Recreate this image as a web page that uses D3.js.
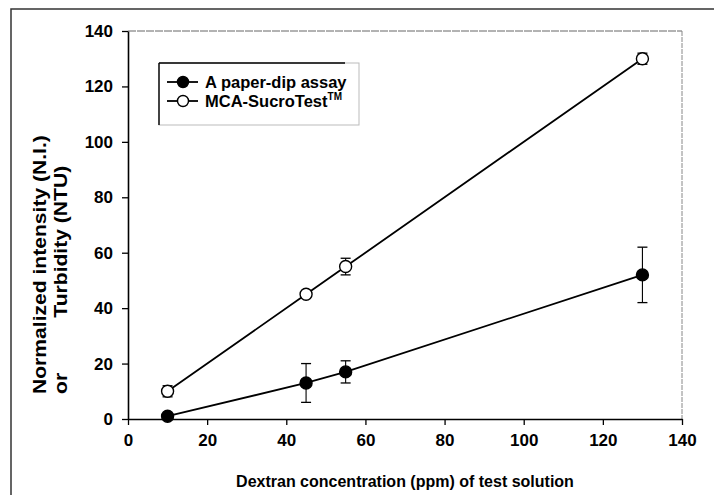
<!DOCTYPE html>
<html>
<head>
<meta charset="utf-8">
<script src="https://cdn.jsdelivr.net/npm/d3@7"></script>
<style>
  html, body { margin: 0; padding: 0; background: #fff; }
  svg { display: block; font-family: "Liberation Sans", Arial, sans-serif; }
</style>
</head>
<body>
<svg id="chart" width="714" height="495"></svg>
<script>
// ---- data ----
const concentrations = [10, 45, 55, 130];
const paperDipValues = [1, 13, 17, 52];
const paperDipErrors = [0, 7, 4, 10];
const sucroTestValues = [10, 45, 55, 130];
const sucroTestErrors = [2, 0, 3, 2];
const xTicks = [0, 20, 40, 60, 80, 100, 120, 140];
const yTicks = [0, 20, 40, 60, 80, 100, 120, 140];
const seriesNames = ["A paper-dip assay", "MCA-SucroTest"];

const svg = d3.select("#chart");
const margin = { left: 128, right: 32, top: 31, bottom: 76 };
const W = 714, H = 495;

// outer frame
svg.append("rect").attr("x", 11).attr("y", 9).attr("width", 720).attr("height", 500)
  .attr("fill", "none").attr("stroke", "#333").attr("stroke-width", 1.5);

const x = d3.scaleLinear().domain([0, 140]).range([margin.left, W - margin.right]);
const y = d3.scaleLinear().domain([0, 140]).range([H - margin.bottom, margin.top]);

// light top/right frame of plot
svg.append("line").attr("x1", x(0)).attr("x2", x(140)).attr("y1", y(140)).attr("y2", y(140))
  .attr("stroke", "#666").attr("stroke-width", 1).attr("stroke-dasharray", "8,1");
svg.append("line").attr("x1", x(140)).attr("x2", x(140)).attr("y1", y(140)).attr("y2", y(0))
  .attr("stroke", "#888").attr("stroke-width", 1).attr("stroke-dasharray", "5,1");

// axes
const xAxis = svg.append("g").attr("transform", `translate(0,${y(0)})`)
  .call(d3.axisBottom(x).tickValues(xTicks).tickSize(6).tickSizeOuter(0).tickPadding(7));
const yAxis = svg.append("g").attr("transform", `translate(${x(0)},0)`)
  .call(d3.axisLeft(y).tickValues(yTicks).tickSize(6).tickSizeOuter(0).tickPadding(9));
[xAxis, yAxis].forEach(g => {
  g.select(".domain").attr("stroke", "#000").attr("stroke-width", 1.6);
  g.selectAll(".tick line").attr("stroke", "#000").attr("stroke-width", 1.3);
  g.selectAll(".tick text").attr("fill", "#000").attr("font-size", 17).attr("font-weight", "bold")
    .attr("font-family", "Liberation Sans, Arial, sans-serif");
});
xAxis.selectAll(".tick text").attr("dy", "0.8em");

// axis titles
svg.append("text").attr("x", (x(0) + x(140)) / 2).attr("y", 487)
  .attr("text-anchor", "middle").attr("font-size", 16).attr("font-weight", "bold")
  .text("Dextran concentration (ppm) of test solution");

const yl = svg.append("g").attr("transform", "translate(46,394) rotate(-90) scale(1.14,1)");
yl.append("text").attr("x", 0).attr("y", 0).attr("font-size", 18.5).attr("font-weight", "bold")
  .text("Normalized intensity (N.I.)");
yl.append("text").attr("x", 0).attr("y", 21).attr("font-size", 18.5).attr("font-weight", "bold")
  .text("or");
yl.append("text").attr("x", 67).attr("y", 21).attr("font-size", 18.5).attr("font-weight", "bold")
  .text("Turbidity (NTU)");

// series
const series = [
  { vals: paperDipValues, errs: paperDipErrors, fill: "#000" },
  { vals: sucroTestValues, errs: sucroTestErrors, fill: "#fff" }
];
const line = d3.line().x(d => x(d[0])).y(d => y(d[1]));

series.forEach(s => {
  const pts = concentrations.map((c, i) => [c, s.vals[i], s.errs[i]]);
  const eb = svg.append("g");
  pts.filter(p => p[2] > 0).forEach(p => {
    eb.append("line").attr("x1", x(p[0])).attr("x2", x(p[0]))
      .attr("y1", y(p[1] - p[2])).attr("y2", y(p[1] + p[2])).attr("stroke", "#000").attr("stroke-width", 1.1);
    [p[1] - p[2], p[1] + p[2]].forEach(v => {
      eb.append("line").attr("x1", x(p[0]) - 5).attr("x2", x(p[0]) + 5)
        .attr("y1", y(v)).attr("y2", y(v)).attr("stroke", "#000").attr("stroke-width", 1.3);
    });
  });
  svg.append("path").datum(pts).attr("d", line).attr("fill", "none")
    .attr("stroke", "#000").attr("stroke-width", 1.8);
  svg.append("g").selectAll("circle").data(pts).join("circle")
    .attr("cx", d => x(d[0])).attr("cy", d => y(d[1])).attr("r", 6)
    .attr("fill", s.fill).attr("stroke", "#000").attr("stroke-width", 1.4);
});

// legend
const lg = svg.append("g");
lg.append("rect").attr("x", 159).attr("y", 63).attr("width", 200).attr("height", 62)
  .attr("fill", "#fff").attr("stroke", "#bbb").attr("stroke-width", 1);
lg.append("line").attr("x1", 159).attr("x2", 345).attr("y1", 63).attr("y2", 63)
  .attr("stroke", "#000").attr("stroke-width", 1.4);
lg.append("line").attr("x1", 159).attr("x2", 159).attr("y1", 63).attr("y2", 125)
  .attr("stroke", "#000").attr("stroke-width", 1.4);
seriesNames.forEach((name, i) => {
  const ly = 82 + i * 19;
  lg.append("line").attr("x1", 167).attr("x2", 198).attr("y1", ly).attr("y2", ly)
    .attr("stroke", "#000").attr("stroke-width", 1.8);
  lg.append("circle").attr("cx", 183).attr("cy", ly).attr("r", 5.5)
    .attr("fill", series[i].fill).attr("stroke", "#000").attr("stroke-width", 1.4);
  const t = lg.append("text").attr("x", 205).attr("y", ly + 5.5).attr("font-size", 16.5)
    .attr("font-weight", "bold").text(name);
  if (i === 1) {
    t.append("tspan").attr("font-size", 10).attr("dy", -7).text("TM");
  }
});
</script>
</body>
</html>
